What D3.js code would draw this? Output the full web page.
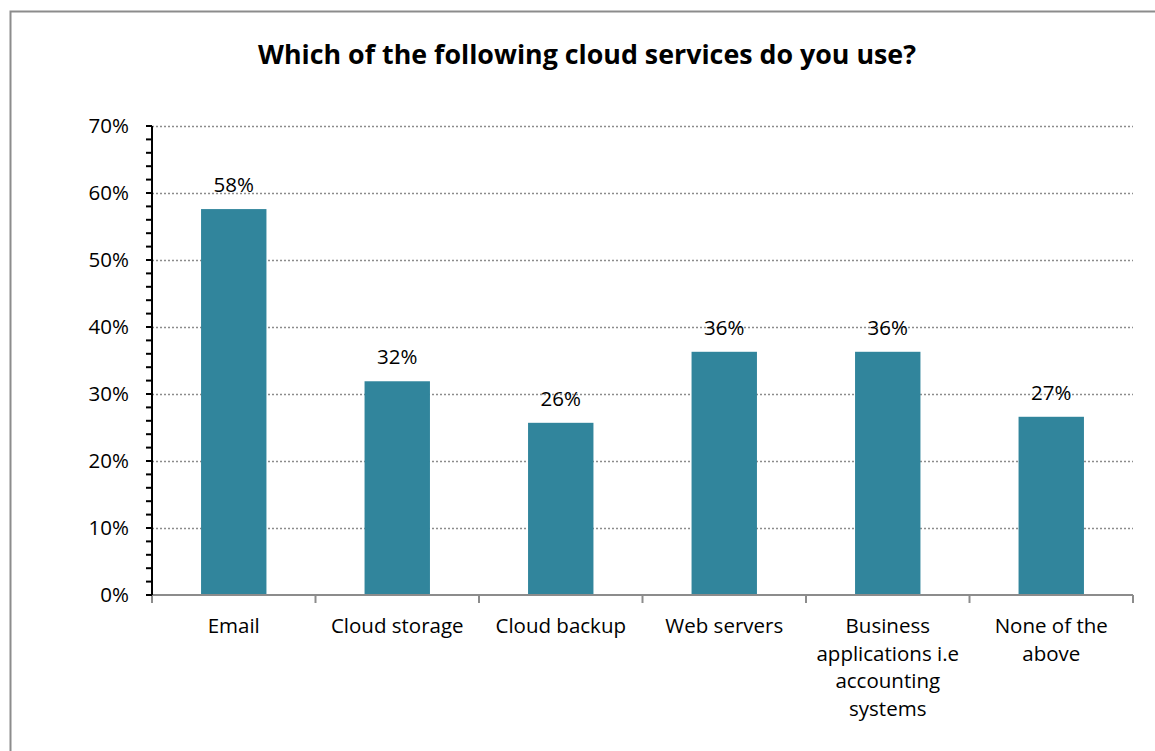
<!DOCTYPE html>
<html>
<head>
<meta charset="utf-8">
<script src="https://cdn.jsdelivr.net/npm/d3@7"></script>
<style>
  html, body { margin: 0; padding: 0; background: #fff; }
  svg { display: block; }
  text { font-family: "Open Sans", "Noto Sans", sans-serif; fill: #000; }
</style>
</head>
<body>
<svg id="chart" width="1155" height="751"></svg>
<script>
// Survey answers and the share of respondents for each
const categories = [
  ["Email"],
  ["Cloud storage"],
  ["Cloud backup"],
  ["Web servers"],
  ["Business", "applications i.e", "accounting", "systems"],
  ["None of the", "above"]
];
const shares = [0.576, 0.319, 0.257, 0.363, 0.363, 0.266];
const yTicks = [0, 0.1, 0.2, 0.3, 0.4, 0.5, 0.6, 0.7];
const title = "Which of the following cloud services do you use?";

const svg = d3.select("#chart");
const W = 1155, H = 751;
const m = { left: 152, right: 22, top: 126, bottom: 156 };
const fs = 20.5;

// Chart frame
svg.append("path")
  .attr("d", `M10.5,${H} V11.5 H${W}`)
  .attr("fill", "none").attr("stroke", "#8c8c8c").attr("stroke-width", 2);

svg.append("text")
  .attr("x", 587).attr("y", 64)
  .attr("text-anchor", "middle")
  .attr("font-weight", "bold").attr("font-size", 26.8)
  .text(title);

const x = d3.scaleBand()
  .domain(d3.range(categories.length))
  .range([m.left, W - m.right])
  .paddingInner(0.6).paddingOuter(0.3);
const xOuter = d3.scaleBand().domain(d3.range(categories.length)).range([m.left, W - m.right]);
const y = d3.scaleLinear().domain([0, 0.7]).range([H - m.bottom, m.top]);

// Dotted gridlines
svg.append("g").selectAll("line").data(yTicks.slice(1)).join("line")
  .attr("x1", m.left).attr("x2", W - m.right)
  .attr("y1", d => Math.round(y(d)) + 0.5).attr("y2", d => Math.round(y(d)) + 0.5)
  .attr("stroke", "#8c8c8c").attr("stroke-width", 1.3).attr("stroke-dasharray", "2,2");

// Bars
svg.append("g").selectAll("rect").data(shares).join("rect")
  .attr("x", (d, i) => x(i)).attr("width", x.bandwidth())
  .attr("y", d => y(d)).attr("height", d => y(0) - y(d))
  .attr("fill", "#31859c");

// Value labels
svg.append("g").selectAll("text").data(shares).join("text")
  .attr("x", (d, i) => x(i) + x.bandwidth() / 2)
  .attr("y", d => y(d) - 17)
  .attr("text-anchor", "middle").attr("font-size", fs)
  .text(d => d3.format(".0%")(d));

// X axis: gray baseline with ticks at category boundaries
const gx = svg.append("g").attr("transform", `translate(0,${y(0)})`);
gx.append("line").attr("x1", m.left).attr("x2", W - m.right)
  .attr("stroke", "#8c8c8c").attr("stroke-width", 2);
gx.selectAll("line.t").data(d3.range(categories.length + 1)).join("line").attr("class", "t")
  .attr("x1", i => i < categories.length ? xOuter(i) : W - m.right)
  .attr("x2", i => i < categories.length ? xOuter(i) : W - m.right)
  .attr("y1", 0).attr("y2", 8)
  .attr("stroke", "#8c8c8c").attr("stroke-width", 2);
gx.selectAll("text").data(categories).join("text")
  .attr("text-anchor", "middle").attr("font-size", fs)
  .attr("transform", (d, i) => `translate(${xOuter(i) + xOuter.bandwidth() / 2},38)`)
  .selectAll("tspan").data(d => d).join("tspan")
  .attr("x", 0).attr("dy", (d, j) => j === 0 ? 0 : 27.5)
  .text(d => d);

// Y axis with minor ticks every 2%
const gy = svg.append("g").attr("transform", `translate(${m.left},0)`);
gy.append("line").attr("y1", y(0.7)).attr("y2", y(0)).attr("stroke", "#000").attr("stroke-width", 2);
gy.selectAll("line.minor").data(d3.range(0, 71, 2).map(v => v / 100)).join("line").attr("class", "minor")
  .attr("x1", -6).attr("x2", 0)
  .attr("y1", d => y(d)).attr("y2", d => y(d))
  .attr("stroke", "#000").attr("stroke-width", 2);
gy.selectAll("text").data(yTicks).join("text")
  .attr("x", -23).attr("y", d => y(d)).attr("dy", "0.35em")
  .attr("text-anchor", "end").attr("font-size", fs)
  .text(d => d3.format(".0%")(d));
</script>
</body>
</html>
